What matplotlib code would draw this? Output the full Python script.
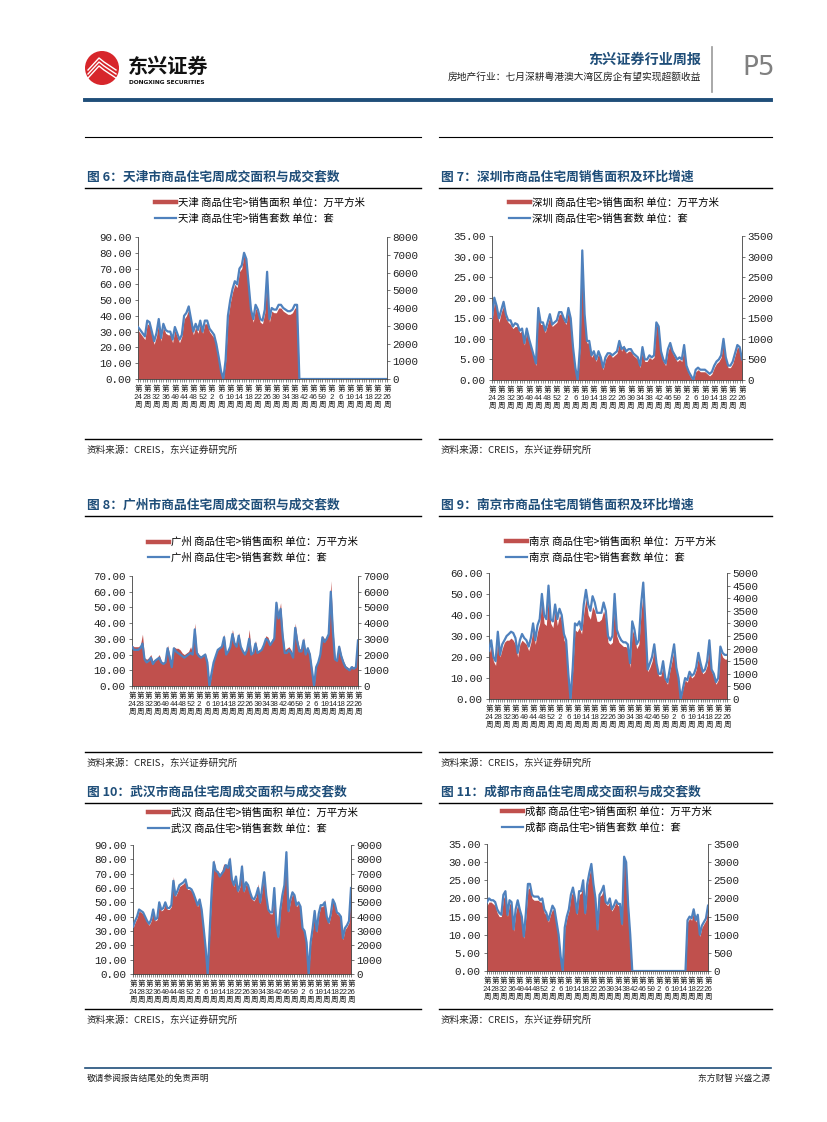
import numpy as np
import matplotlib
matplotlib.use('Agg')
import matplotlib.pyplot as plt
from matplotlib.patches import Ellipse
from matplotlib.lines import Line2D

plt.rcParams['font.family'] = ['Noto Sans CJK SC', 'DejaVu Sans']
plt.rcParams['axes.unicode_minus'] = False

W, H = 827, 1122
RED = '#C0504D'
BLUE = '#4F81BD'
NAVY = '#1F4E79'
NUM_FONT = ['Liberation Mono', 'Noto Sans CJK SC']

WEEK_LABELS = ['24', '28', '32', '36', '40', '44', '48', '52', '2', '6', '10', '14', '18', '22',
               '26', '30', '34', '38', '42', '46', '50', '2', '6', '10', '14', '18', '22', '26']

# ---- 天津 ----
tj_area = [31, 29, 27, 25, 35, 34, 28, 22, 27, 36,
           24, 33, 29, 28, 28, 23, 31, 27, 23, 27,
           38, 40, 44, 36, 28, 33, 29, 35, 29, 35,
           35, 30, 28, 26, 20, 12, 4, 0, 11, 38,
           48, 55, 60, 58, 68, 70, 79, 74, 58, 42,
           36, 45, 42, 36, 35, 42, 66, 36, 43, 42,
           42, 45, 45, 43, 42, 41, 41, 42, 45, 45,
           0, 0, 0, 0, 0, 0, 0, 0, 0, 0,
           0, 0, 0, 0, 0, 0, 0, 0, 0, 0,
           0, 0, 0, 0, 0, 0, 0, 0, 0, 0,
           0, 0, 0, 0, 0, 0, 0, 0, 0]
tj_units = [2930, 2760, 2580, 2400, 3290, 3200, 2670, 2130, 2580, 3380,
            2310, 3110, 2760, 2670, 2670, 2220, 2930, 2580, 2220, 2490,
            3560, 3730, 4090, 3380, 2670, 3110, 2760, 3290, 2670, 3290,
            3290, 2840, 2670, 2490, 1960, 1240, 440, 0, 1070, 3560,
            4440, 5070, 5510, 5330, 6220, 6400, 7110, 6760, 5330, 3910,
            3380, 4180, 3910, 3380, 3290, 3910, 6040, 3380, 4000, 3910,
            3910, 4180, 4180, 4000, 3910, 3820, 3820, 3910, 4180, 4180,
            0, 0, 0, 0, 0, 0, 0, 0, 0, 0,
            0, 0, 0, 0, 0, 0, 0, 0, 0, 0,
            0, 0, 0, 0, 0, 0, 0, 0, 0, 0,
            0, 0, 0, 0, 0, 0, 0, 0, 0]

# ---- 深圳 ----
sz_area = [14.5, 19, 17.5, 14, 16.5, 18, 15, 14, 13.5, 12.5,
           13, 13, 11.5, 12, 8.5, 12, 9.5, 7.5, 5.5, 3.5,
           17, 13.5, 13.5, 11.5, 13.5, 15.5, 13, 13.5, 14, 16,
           16, 14.5, 13.5, 17, 14.5, 7.5, 2.5, 0, 7.5, 30,
           15, 9, 9, 5.5, 6.5, 4.5, 6.5, 5, 2.5, 5,
           6, 6.5, 5.5, 6, 6.5, 9, 7, 8.5, 6.5, 7,
           7, 6, 5.5, 5, 3, 7.5, 4.5, 4.5, 5.5, 5,
           5.5, 13.5, 12.5, 6.5, 4.5, 3.5, 7, 8.5, 6.5, 5.5,
           4.5, 5, 4.5, 8, 3, 1.5, 0.5, 0, 2, 2.5,
           2, 2, 2, 1.5, 1, 1.5, 3, 4, 4.5, 5.5,
           9.5, 5, 3, 3, 4, 6, 8, 7.5, 4.5]
sz_units = [1500, 2000, 1800, 1500, 1700, 1900, 1600, 1450, 1450, 1300,
            1380, 1350, 1200, 1250, 900, 1250, 1000, 800, 600, 400,
            1750, 1400, 1400, 1200, 1400, 1600, 1350, 1400, 1450, 1650,
            1650, 1500, 1400, 1750, 1500, 800, 300, 0, 800, 3150,
            1600, 950, 950, 600, 700, 500, 700, 550, 300, 550,
            650, 650, 600, 650, 700, 950, 750, 800, 700, 750,
            750, 650, 600, 550, 350, 800, 500, 500, 600, 550,
            600, 1400, 1300, 700, 500, 400, 750, 900, 700, 600,
            500, 550, 500, 850, 350, 200, 100, 0, 250, 300,
            250, 250, 250, 200, 150, 200, 350, 450, 500, 600,
            1000, 550, 350, 350, 450, 650, 850, 800, 500]

# ---- 广州 ----
gz_area = [26, 25, 25, 25, 26, 33, 18, 17, 18, 20,
           16, 17, 18, 20, 16, 15, 16, 26, 20, 13,
           25, 24, 24, 23, 21, 20, 21, 22, 25, 21,
           40, 22, 20, 19, 20, 21, 16, 0, 8, 16,
           20, 23, 25, 26, 33, 21, 23, 26, 36, 28,
           26, 34, 25, 23, 21, 24, 36, 21, 22, 29,
           22, 23, 24, 28, 32, 31, 27, 30, 32, 54,
           45, 53, 34, 23, 24, 25, 23, 20, 40, 30,
           24, 23, 31, 21, 25, 21, 11, 0, 13, 16,
           22, 32, 30, 31, 34, 67, 37, 18, 17, 26,
           20, 16, 13, 12, 11, 13, 12, 14, 31]
gz_units = [2500, 2300, 2300, 2300, 2400, 2700, 1700, 1500, 1600, 1800,
            1400, 1600, 1700, 1800, 1500, 1400, 1500, 2400, 1800, 1200,
            2400, 2200, 2100, 2000, 1900, 1800, 1900, 2000, 2100, 2000,
            3600, 2100, 1900, 1800, 1900, 2000, 1500, 0, 800, 1500,
            1900, 2300, 2400, 2500, 3100, 2000, 2200, 2500, 3300, 2700,
            2500, 3200, 2500, 2200, 2000, 2300, 3000, 2000, 2100, 2700,
            2100, 2200, 2300, 2600, 3000, 2900, 2600, 2800, 3000, 5300,
            4300, 4900, 3200, 2100, 2100, 2300, 2100, 1800, 3700, 2800,
            2200, 2200, 2900, 2000, 2400, 2000, 1000, 0, 1200, 1500,
            2000, 3100, 2800, 3000, 3300, 6000, 3500, 1700, 1600, 2500,
            1900, 1500, 1200, 1100, 1000, 1200, 1100, 1200, 2900]

# ---- 南京 ----
nj_area = [21, 26, 18, 16, 29, 20, 24, 27, 28, 28,
           29, 28, 26, 20, 26, 28, 27, 26, 23, 27,
           33, 26, 32, 36, 47, 36, 35, 50, 36, 34,
           42, 35, 40, 37, 28, 26, 11, 0, 14, 33,
           32, 34, 31, 41, 48, 40, 38, 44, 42, 37,
           37, 38, 42, 38, 27, 26, 27, 47, 30, 27,
           26, 25, 25, 24, 15, 33, 30, 24, 26, 41,
           51, 32, 13, 15, 18, 24, 15, 11, 11, 16,
           9, 7, 13, 18, 24, 14, 9, 0, 5, 9,
           8, 12, 10, 11, 14, 20, 15, 12, 13, 16,
           26, 13, 11, 7, 9, 23, 20, 19, 19]
nj_units = [1920, 2330, 1670, 1500, 2670, 1750, 2170, 2330, 2500, 2580,
            2670, 2620, 2420, 1830, 2330, 2580, 2420, 2330, 2080, 2420,
            3000, 2330, 2920, 3170, 4170, 3330, 3170, 4500, 3170, 3080,
            3750, 3170, 3580, 3330, 2580, 2330, 1000, 0, 1250, 3000,
            2920, 3080, 2750, 3750, 4330, 3750, 3500, 4080, 3830, 3420,
            3420, 3420, 3830, 3500, 2500, 2330, 2500, 4170, 2750, 2500,
            2330, 2250, 2250, 2170, 1420, 3080, 2750, 2170, 2330, 3750,
            4620, 2920, 1170, 1420, 1670, 2170, 1420, 1000, 1000, 1500,
            830, 670, 1170, 1670, 2170, 1250, 830, 0, 420, 830,
            750, 1080, 920, 1000, 1250, 1830, 1420, 1080, 1170, 1500,
            2330, 1170, 1000, 670, 830, 2080, 1830, 1750, 1750]

# ---- 武汉 ----
wh_area = [32, 36, 39, 44, 43, 42, 39, 36, 34, 37,
           44, 37, 38, 49, 44, 45, 49, 45, 45, 47,
           68, 54, 57, 61, 62, 63, 65, 59, 59, 58,
           55, 51, 47, 53, 44, 31, 17, 0, 29, 57,
           80, 73, 72, 70, 72, 77, 75, 75, 82, 65,
           61, 67, 57, 61, 77, 57, 63, 61, 56, 52,
           51, 54, 63, 49, 59, 72, 54, 44, 42, 42,
           59, 34, 25, 44, 54, 67, 84, 43, 51, 56,
           54, 47, 49, 46, 31, 29, 21, 0, 21, 31,
           43, 29, 41, 47, 47, 52, 39, 35, 41, 51,
           48, 42, 41, 39, 24, 31, 33, 36, 59]
wh_units = [3300, 3700, 4000, 4500, 4400, 4300, 4000, 3700, 3500, 3800,
            4500, 3800, 3900, 5000, 4500, 4600, 5000, 4600, 4600, 4800,
            6500, 5500, 5800, 6200, 6300, 6400, 6600, 6000, 6000, 5900,
            5600, 5200, 4800, 5200, 4500, 3200, 1800, 0, 3000, 5800,
            7800, 7200, 7100, 6800, 7000, 7200, 7600, 7400, 8000, 6600,
            6200, 6800, 5800, 6200, 7500, 5800, 6400, 6200, 5700, 5300,
            5200, 5500, 6000, 5000, 6000, 7100, 5500, 4500, 4300, 4300,
            6000, 3500, 2600, 4500, 5500, 6200, 8500, 4400, 5200, 5700,
            5500, 4800, 5000, 4700, 3200, 3000, 2200, 0, 2200, 3200,
            4400, 3000, 4200, 4800, 4800, 5000, 4000, 3600, 4200, 5200,
            4900, 4300, 4200, 4000, 2500, 3200, 3400, 3700, 6000]

# ---- 成都 ----
cd_area = [18, 19, 19, 18.5, 18, 16, 15, 15, 20, 21,
           15, 18.5, 18.5, 11, 16, 18.5, 16, 14.5, 9, 15,
           22.5, 23, 20, 19.5, 19.5, 19.5, 19, 19, 16, 15.5,
           13.5, 15.5, 17, 16.5, 13, 9.5, 3.5, 0, 11.5, 14.5,
           16.5, 20.5, 22, 19.5, 15.5, 21, 21.5, 24, 15.5, 23.5,
           26.5, 29, 23.5, 19.5, 11, 20.5, 21, 22.5, 18.5, 18,
           19, 16.5, 17.5, 19, 18, 18, 12.5, 31, 29.5, 17.5,
           9.5, 0, 0, 0, 0, 0, 0, 0, 0, 0,
           0, 0, 0, 0, 0, 0, 0, 0, 0, 0,
           0, 0, 0, 0, 0, 0, 0, 0, 13.5, 14.5,
           14, 16.5, 13.5, 15, 9.5, 12, 13, 14, 17.5]
cd_units = [1900, 2000, 1950, 1950, 1900, 1700, 1600, 1550, 2100, 2200,
            1550, 1950, 1900, 1150, 1700, 1950, 1700, 1500, 950, 1600,
            2400, 2400, 2100, 2050, 2050, 2050, 1950, 2000, 1700, 1600,
            1400, 1600, 1800, 1700, 1350, 1000, 400, 0, 1200, 1500,
            1700, 2100, 2300, 2000, 1600, 2200, 2200, 2500, 1600, 2400,
            2700, 2950, 2400, 2000, 1150, 2100, 2200, 2350, 1900, 1850,
            2000, 1700, 1800, 1950, 1850, 1850, 1300, 3150, 3000, 1800,
            1000, 0, 0, 0, 0, 0, 0, 0, 0, 0,
            0, 0, 0, 0, 0, 0, 0, 0, 0, 0,
            0, 0, 0, 0, 0, 0, 0, 0, 1400, 1500,
            1450, 1700, 1400, 1550, 1000, 1250, 1350, 1450, 1800]


def fx(x):
    return x / W


def fy(y):
    return 1 - y / H


fig = plt.figure(figsize=(W / 100, H / 100), dpi=100)


def hline(y, x0, x1, color='black', lw=0.8):
    fig.add_artist(Line2D([fx(x0), fx(x1)], [fy(y), fy(y)], transform=fig.transFigure,
                          color=color, lw=lw))


def draw_panel(city, title, area, units, lmax, lstep, rmax, rstep,
               box, col, title_y, leg_xy, bottom_y, top_rule=None):
    x0, y0, x1, y1 = box
    cx0, cx1 = col
    # header of the panel
    if top_rule is not None:
        hline(top_rule, cx0, cx1)
    fig.text(fx(cx0 + 2), fy(title_y), title, fontsize=9.2, fontweight='bold',
             color=NAVY, va='center', ha='left')
    hline(title_y + 11, cx0, cx1, lw=1.0)
    hline(bottom_y, cx0, cx1, lw=1.0)
    fig.text(fx(cx0 + 2), fy(bottom_y + 11), '资料来源：CREIS，东兴证券研究所', fontsize=6.9,
             style='italic', color='#222222', va='center', ha='left')

    ax = fig.add_axes([fx(x0), fy(y1), fx(x1) - fx(x0), fy(y0) - fy(y1)])
    xs = np.arange(len(area))
    ax.fill_between(xs, 0, area, color=RED, lw=0)
    ax.set_xlim(0, len(area) - 1)
    ax.set_ylim(0, lmax)
    lt = np.arange(0, lmax + lstep / 2, lstep)
    ax.set_yticks(lt)
    ax.set_yticklabels(['%.2f' % v for v in lt], family=NUM_FONT, fontsize=7.8)
    ax.set_xticks(np.arange(0, len(area), 4))
    ax.set_xticklabels(['第\n%s\n周' % w for w in WEEK_LABELS], fontsize=5.4,
                       linespacing=1.15, family=NUM_FONT)
    ax.set_xticks(np.arange(0, len(area)), minor=True)
    ax.tick_params(axis='x', which='major', length=2.5, width=0.5, pad=2.5, colors='#404040')
    ax.tick_params(axis='x', which='minor', length=1.8, width=0.4, colors='#404040')
    ax.tick_params(axis='x', labelcolor='#222222')
    ax.tick_params(axis='y', length=2.5, width=0.5, pad=2.0, colors='#404040', labelcolor='#222222')
    for s in ['top', 'right']:
        ax.spines[s].set_visible(False)
    for s in ['left', 'bottom']:
        ax.spines[s].set_color('#404040')
        ax.spines[s].set_linewidth(0.6)
    ax.patch.set_visible(False)

    ax2 = ax.twinx()
    ax2.plot(xs, units, color=BLUE, lw=1.6, solid_joinstyle='round')
    ax2.set_ylim(0, rmax)
    rt = np.arange(0, rmax + rstep / 2, rstep)
    ax2.set_yticks(rt)
    ax2.set_yticklabels(['%d' % v for v in rt], family=NUM_FONT, fontsize=7.8)
    ax2.tick_params(axis='y', length=2.5, width=0.5, pad=1.5, colors='#404040', labelcolor='#222222')
    for s in ['top', 'left', 'bottom']:
        ax2.spines[s].set_visible(False)
    ax2.spines['right'].set_color('#404040')
    ax2.spines['right'].set_linewidth(0.6)

    handles = [Line2D([0], [0], color=RED, lw=3.2), Line2D([0], [0], color=BLUE, lw=1.6)]
    labels = ['%s 商品住宅>销售面积 单位：万平方米' % city, '%s 商品住宅>销售套数 单位：套' % city]
    ax2.legend(handles, labels, loc='upper left', bbox_to_anchor=(fx(leg_xy[0]), fy(leg_xy[1])),
               bbox_transform=fig.transFigure, frameon=False, fontsize=7.5, borderpad=0,
               borderaxespad=0, handlelength=2.0, handletextpad=0.2, labelspacing=0.55)


LEFT = (85, 421)
RIGHT = (439, 772)

draw_panel('天津', '图 6：天津市商品住宅周成交面积与成交套数', tj_area, tj_units, 90, 10, 8000, 1000,
           (138, 237, 387, 379), LEFT, 177, (155, 198), 439, top_rule=137)
draw_panel('深圳', '图 7：深圳市商品住宅周销售面积及环比增速', sz_area, sz_units, 35, 5, 3500, 500,
           (492, 236, 742, 380), RIGHT, 177, (509, 198), 439, top_rule=137)
draw_panel('广州', '图 8：广州市商品住宅周成交面积与成交套数', gz_area, gz_units, 70, 10, 7000, 1000,
           (132, 576, 358, 686), LEFT, 505, (148, 537), 752)
draw_panel('南京', '图 9：南京市商品住宅周销售面积及环比增速', nj_area, nj_units, 60, 10, 5000, 500,
           (489, 573, 727, 699), RIGHT, 505, (506, 537), 752)
draw_panel('武汉', '图 10：武汉市商品住宅周成交面积与成交套数', wh_area, wh_units, 90, 10, 9000, 1000,
           (133, 845, 351, 974), LEFT, 792, (148, 808), 1009)
draw_panel('成都', '图 11：成都市商品住宅周成交面积与成交套数', cd_area, cd_units, 35, 5, 3500, 500,
           (487, 844, 708, 971), RIGHT, 792, (502, 807), 1009)

# ---- page header ----
fig.add_artist(Ellipse((fx(102), fy(68)), 34 / W, 34 / H, transform=fig.transFigure,
                       facecolor='#D7262B', edgecolor='none'))
for dy in (0, 4, 8):
    fig.add_artist(Line2D([fx(88), fx(99), fx(104), fx(116)],
                          [fy(74 + dy - 4), fy(62 + dy - 4), fy(66 + dy - 4), fy(74 + dy - 4)],
                          transform=fig.transFigure, color='white', lw=1.0))
fig.text(fx(128), fy(66), '东兴证券', fontsize=14.5, fontweight='bold', color='#111111',
         va='center', ha='left')
fig.text(fx(129), fy(83), 'DONGXING SECURITIES', fontsize=4.2, fontweight='bold',
         color='#111111', va='center', ha='left', family='DejaVu Sans')
fig.text(fx(701), fy(60), '东兴证券行业周报', fontsize=10.2, fontweight='bold', color=NAVY,
         va='center', ha='right')
fig.text(fx(701), fy(77), '房地产行业：七月深耕粤港澳大湾区房企有望实现超额收益', fontsize=7.0,
         color='#222222', va='center', ha='right')
fig.add_artist(Line2D([fx(712), fx(712)], [fy(47), fy(92)], transform=fig.transFigure,
                      color='#999999', lw=1.2))
fig.text(fx(759), fy(68), 'P5', fontsize=19, color='#808080', va='center', ha='center',
         family='DejaVu Sans')
hline(100, 85, 771, color=NAVY, lw=2.8)

# ---- page footer ----
hline(1068, 85, 771, color=NAVY, lw=1.2)
fig.text(fx(87), fy(1078), '敬请参阅报告结尾处的免责声明', fontsize=6.3, color='#222222',
         va='center', ha='left')
fig.text(fx(770), fy(1078), '东方财智 兴盛之源', fontsize=6.3, color='#222222',
         va='center', ha='right')

fig.savefig('out.png', dpi=100)
